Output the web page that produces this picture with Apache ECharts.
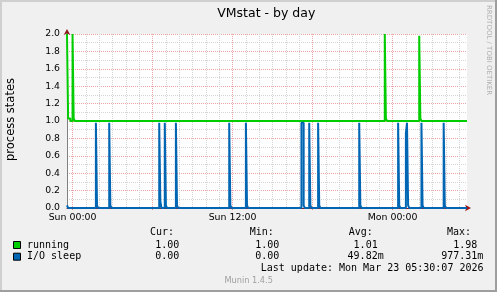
<!DOCTYPE html>
<html><head><meta charset="utf-8">
<script src="https://cdn.jsdelivr.net/npm/echarts@6/dist/echarts.min.js"></script>
<style>html,body{margin:0;padding:0;background:#F0F0F0}#c{width:497px;height:292px}</style>
</head><body><div id="c"></div>
<script>
// ---- data ----
const chartTitle = 'VMstat - by day';
const yAxisTitle = 'process states';
const xTickLabels = ['Sun 00:00', 'Sun 12:00', 'Mon 00:00'];
const yMin = 0, yMax = 2, yMajorStep = 0.2, yMinorStep = 0.1;
const seriesNames = ['running', 'I/O sleep'];
const seriesColors = ['#00CC00', '#0066B3'];
const statHeaders = ['Cur:', 'Min:', 'Avg:', 'Max:'];
const curVals = ['1.00', '0.00'];
const minVals = ['1.00', '0.00'];
const avgVals = ['1.01', '49.82m'];
const maxVals = ['1.98', '977.31m'];
const lastUpdate = 'Last update: Mon Mar 23 05:30:07 2026';
const footer = 'Munin 1.4.5';
const watermark = 'RRDTOOL / TOBI OETIKER';

// value changes (5-minute samples), drawn as steps
const running = [
  ['Sat 23:35', 2.0], ['Sat 23:40', 1.03], ['Sat 23:50', 1.0],
  ['Sun 00:00', 2.0], ['Sun 00:05', 1.03], ['Sun 00:10', 1.0],
  ['Sun 23:25', 2.0], ['Sun 23:30', 1.03], ['Sun 23:35', 1.0],
  ['Mon 02:00', 1.98], ['Mon 02:05', 1.03], ['Mon 02:10', 1.0],
  ['Mon 05:35', 1.0]
];
const ioSleep = [
  ['Sat 23:35', 0.03], ['Sat 23:40', 0],
  ['Sun 01:45', 0.98], ['Sun 01:50', 0.03], ['Sun 01:55', 0],
  ['Sun 02:45', 0.98], ['Sun 02:50', 0.03], ['Sun 02:55', 0],
  ['Sun 06:30', 0.98], ['Sun 06:35', 0.08], ['Sun 06:40', 0],
  ['Sun 06:55', 0.98], ['Sun 07:00', 0.03], ['Sun 07:05', 0],
  ['Sun 07:45', 0.98], ['Sun 07:50', 0.03], ['Sun 07:55', 0],
  ['Sun 11:45', 0.98], ['Sun 11:50', 0.03], ['Sun 11:55', 0],
  ['Sun 13:00', 0.98], ['Sun 13:05', 0.03], ['Sun 13:10', 0],
  ['Sun 17:10', 0.98], ['Sun 17:20', 0.03], ['Sun 17:25', 0],
  ['Sun 17:45', 0.98], ['Sun 17:50', 0.03], ['Sun 17:55', 0],
  ['Sun 18:25', 0.98], ['Sun 18:30', 0.03], ['Sun 18:35', 0],
  ['Sun 21:30', 0.98], ['Sun 21:35', 0.03], ['Sun 21:40', 0],
  ['Mon 00:25', 0.98], ['Mon 00:30', 0.03], ['Mon 00:35', 0],
  ['Mon 01:00', 0.86], ['Mon 01:05', 0.98], ['Mon 01:10', 0.03], ['Mon 01:15', 0],
  ['Mon 02:10', 0.98], ['Mon 02:15', 0.03], ['Mon 02:20', 0],
  ['Mon 03:50', 0.98], ['Mon 03:55', 0.03], ['Mon 04:00', 0],
  ['Mon 05:35', 0]
];

// x domain: 5-minute sample slots, Sat 23:35 .. Mon 05:35
const dayNames = ['Sat', 'Sun', 'Mon'];
const p2 = n => (n < 10 ? '0' : '') + n;
const categories = [];
for (let m = -25; m <= 1775; m += 5) {
  const t = m + 1440;
  const mm = t % 1440;
  categories.push(dayNames[Math.floor(t / 1440)] + ' ' + p2(Math.floor(mm / 60)) + ':' + p2(mm % 60));
}
const isHour = v => v.endsWith(':00');
const isSix = v => v.endsWith(':00') && (parseInt(v.slice(4, 6), 10) % 6 === 0);

// ---- chart ----
const GREY = '#d4d4d4', RED = '#eca6a6';
const SANS = "'DejaVu Sans'", MONO = "'DejaVu Sans Mono'";
const chart = echarts.init(document.getElementById('c'), null, {renderer: 'canvas'});

const rows = [curVals, minVals, avgVals, maxVals];
const colRight = [185.3, 285.3, 383.7, 483.3];
const headerX = [150, 249.7, 348.7, 447];
const rowY = [245, 256.7];
const graphic = [
  {type: 'rect', shape: {x: 0, y: 0, width: 497, height: 2}, style: {fill: '#CFCFCF'}},
  {type: 'rect', shape: {x: 0, y: 0, width: 2, height: 292}, style: {fill: '#CFCFCF'}},
  {type: 'rect', shape: {x: 0, y: 290, width: 497, height: 2}, style: {fill: '#9E9E9E'}},
  {type: 'rect', shape: {x: 495, y: 0, width: 2, height: 292}, style: {fill: '#9E9E9E'}},
  {type: 'text', x: 266.3, y: 13.5, style: {text: chartTitle, font: '12.5px ' + SANS, fill: '#000', align: 'center', verticalAlign: 'middle'}},
  {type: 'text', x: 11.2, y: 119.5, rotation: Math.PI / 2, style: {text: yAxisTitle, font: '11.5px ' + SANS, fill: '#000', align: 'center', verticalAlign: 'middle'}},
  {type: 'text', x: 488.5, y: 5, rotation: -Math.PI / 2, style: {text: watermark, font: '7px ' + SANS, fill: '#b0b0b0', align: 'left', verticalAlign: 'middle'}},
  {type: 'text', x: 483.5, y: 268.5, style: {text: lastUpdate, font: '10px ' + MONO, fill: '#000', align: 'right', verticalAlign: 'middle'}},
  {type: 'text', x: 248.7, y: 281, style: {text: footer, font: '8.2px ' + SANS, fill: '#a0a0a0', align: 'center', verticalAlign: 'middle'}}
];
statHeaders.forEach((h, i) => graphic.push({type: 'text', x: headerX[i], y: 232.7,
  style: {text: h, font: '10px ' + MONO, fill: '#000', align: 'left', verticalAlign: 'middle'}}));
seriesNames.forEach((n, r) => {
  graphic.push({type: 'rect', shape: {x: 13.5, y: rowY[r] - 3.5, width: 7, height: 7},
    style: {fill: seriesColors[r], stroke: '#000', lineWidth: 1}});
  graphic.push({type: 'text', x: 27, y: rowY[r],
    style: {text: n, font: '10px ' + MONO, fill: '#000', align: 'left', verticalAlign: 'middle'}});
  rows.forEach((vals, c) => {
    const v = vals[r];
    const txt = /[0-9]$/.test(v) ? v + ' ' : v;
    graphic.push({type: 'text', x: colRight[c], y: rowY[r],
      style: {text: txt, font: '10px ' + MONO, fill: '#000', align: 'right', verticalAlign: 'middle'}});
  });
});

const option = {
  animation: false,
  backgroundColor: '#F0F0F0',
  grid: {left: 67, top: 34, width: 400, height: 174, show: true, backgroundColor: '#fff', borderWidth: 0, containLabel: false},
  xAxis: [
    {type: 'category', data: categories, boundaryGap: false, position: 'bottom',
      axisLine: {show: false}, axisTick: {show: false}, axisLabel: {show: false},
      splitLine: {show: true, interval: (i, v) => isHour(v), lineStyle: {color: GREY, width: 1, type: [1, 1]}}},
    {type: 'category', data: categories, boundaryGap: false, position: 'bottom',
      axisLine: {show: true, symbol: ['none', 'arrow'], symbolSize: [5, 6], symbolOffset: [0, 4], lineStyle: {color: '#a01414', width: 1}},
      axisTick: {show: true, interval: (i, v) => isSix(v), length: 2, lineStyle: {color: '#e08a8a'}},
      axisLabel: {interval: (i, v) => xTickLabels.includes(v), fontFamily: SANS, fontSize: 9.4, color: '#000', margin: 5},
      splitLine: {show: true, interval: (i, v) => isSix(v), lineStyle: {color: RED, width: 1, type: [1, 1]}}}
  ],
  yAxis: [
    {type: 'value', min: yMin, max: yMax, interval: yMinorStep, position: 'left',
      axisLine: {show: false}, axisTick: {show: false}, axisLabel: {show: false},
      splitLine: {show: true, lineStyle: {color: GREY, width: 1, type: [1, 1]}}},
    {type: 'value', min: yMin, max: yMax, interval: yMajorStep, position: 'left',
      axisLine: {show: true, symbol: ['none', 'arrow'], symbolSize: [5, 6], symbolOffset: [0, 5], lineStyle: {color: '#8a1c1c', width: 1}},
      axisTick: {show: false},
      axisLabel: {formatter: v => v.toFixed(1), fontFamily: SANS, fontSize: 9.3, color: '#000', margin: 7},
      splitLine: {show: true, lineStyle: {color: RED, width: 1, type: [1, 1]}}},
    {type: 'value', min: yMin, max: yMax, position: 'left',
      axisLine: {show: true, lineStyle: {color: '#808080', width: 1}}, axisTick: {show: false},
      axisLabel: {show: false}, splitLine: {show: false}}
  ],
  series: [
    {type: 'line', name: seriesNames[0], xAxisIndex: 0, yAxisIndex: 0, data: running, step: 'end',
      symbol: 'none', showSymbol: false, clip: false, lineStyle: {color: seriesColors[0], width: 2}},
    {type: 'line', name: seriesNames[1], xAxisIndex: 0, yAxisIndex: 0, data: ioSleep, step: 'end',
      symbol: 'none', showSymbol: false, clip: false, lineStyle: {color: seriesColors[1], width: 2}}
  ],
  graphic: graphic
};
chart.setOption(option);
</script>
</body></html>
